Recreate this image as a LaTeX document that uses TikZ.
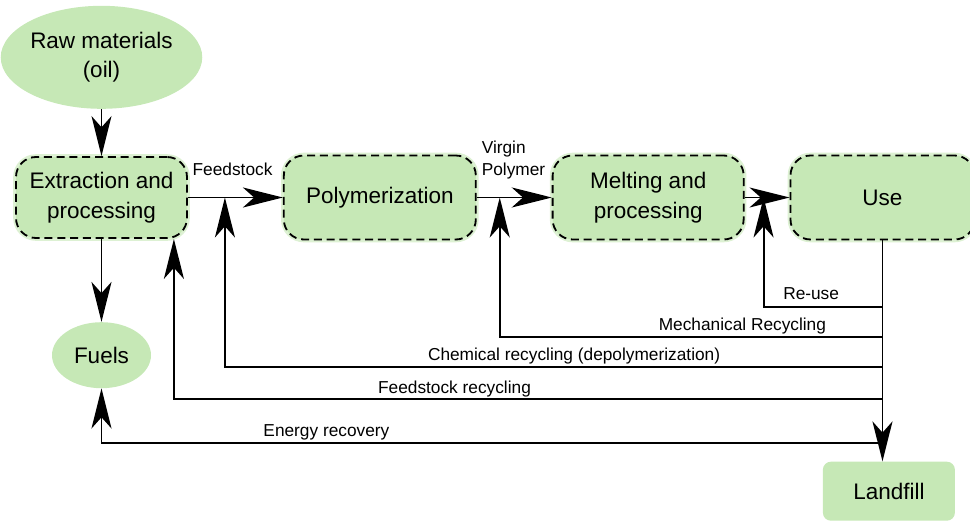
\documentclass[tikz,border=0pt]{standalone}
\usepackage{fontspec}
\setmainfont{Liberation Sans}
\usepackage{tikz}
\usetikzlibrary{positioning,arrows.meta,shapes.geometric}
\definecolor{leaf}{HTML}{C6E8B6}
\tikzset{
  stage/.style={draw,dash pattern=on 2mm off 1.2mm,line width=1.3pt,rounded corners=5mm,fill=leaf,align=center,minimum height=2.1cm,font=\fontsize{16}{21}\selectfont,preaction={draw=leaf!60,solid,line width=4pt}},
  blob/.style={ellipse,fill=leaf,align=center,inner sep=0pt,font=\fontsize{16}{21}\selectfont},
  pad/.style={rounded corners=2mm,fill=leaf,align=center,font=\fontsize{16}{21}\selectfont},
  arr/.style={-{Stealth[length=10mm,width=5mm,inset=2.8mm]},line width=1.4pt},
  lbl/.style={font=\fontsize{12.3}{15.5}\selectfont,inner sep=0pt,text depth=0pt},
}
\begin{document}
\begin{tikzpicture}
\useasboundingbox (0,0) rectangle (24.25,-13.05);
\node[stage, minimum width=4.275cm, minimum height=2.025cm] (extract) at (2.5375,-4.9375) {Extraction and\\processing};
\node[stage, right=2.375cm of extract, minimum width=4.8cm] (poly) {Polymerization};
\node[stage, right=1.875cm of poly, minimum width=4.775cm] (melt) {Melting and\\processing};
\node[stage, right=1.125cm of melt, minimum width=4.6cm] (use) {Use};
\node[blob, above=1.175cm of extract, minimum width=4.6cm, minimum height=2.575cm] (raw) {Raw materials\\(oil)};
\node[blob, below=2.075cm of extract, minimum width=2.475cm, minimum height=1.65cm] (fuels) {Fuels};
\node[pad, below=5.525cm of use, xshift=1.6mm, minimum width=3.3cm, minimum height=1.475cm] (landfill) {Landfill};
\draw[arr] (raw) -- (extract);
\draw[arr] (extract) -- (fuels);
\draw[arr] (extract) -- node[lbl, above=5.25mm, pos=0.47] {Feedstock} (poly);
\draw[arr] (poly) -- node[lbl, align=left, above=5.25mm, pos=0.49] {Virgin\\Polymer} (melt);
\draw[arr] (melt) -- (use);
\draw[arr] (use.south) -- (use.south |- landfill.north);
\path (use.south) ++(0,-1.675) coordinate (reuse) ++(0,-0.75) coordinate (mech) ++(0,-0.75) coordinate (chem) ++(0,-0.8) coordinate (feed) ++(0,-1.1) coordinate (energy);
\draw[arr] (reuse) -| node[lbl, above=1.7mm, pos=0.3] {Re-use} ([xshift=4.75mm]melt.east);
\draw[arr] (mech) -| node[lbl, above=1.6mm, pos=0.183] {Mechanical Recycling} ([xshift=5.75mm]poly.east);
\draw[arr] (chem) -| node[lbl, above=1.4mm, pos=0.2345] {Chemical recycling (depolymerization)} ([xshift=9.25mm]extract.east);
\draw[arr] (feed) -| node[lbl, above=1.2mm, pos=0.302] {Feedstock recycling} ([xshift=18.1mm]extract.south);
\draw[arr] (energy) -| node[lbl, above=1.6mm, pos=0.356] {Energy recovery} (fuels.south);
\end{tikzpicture}
\end{document}
